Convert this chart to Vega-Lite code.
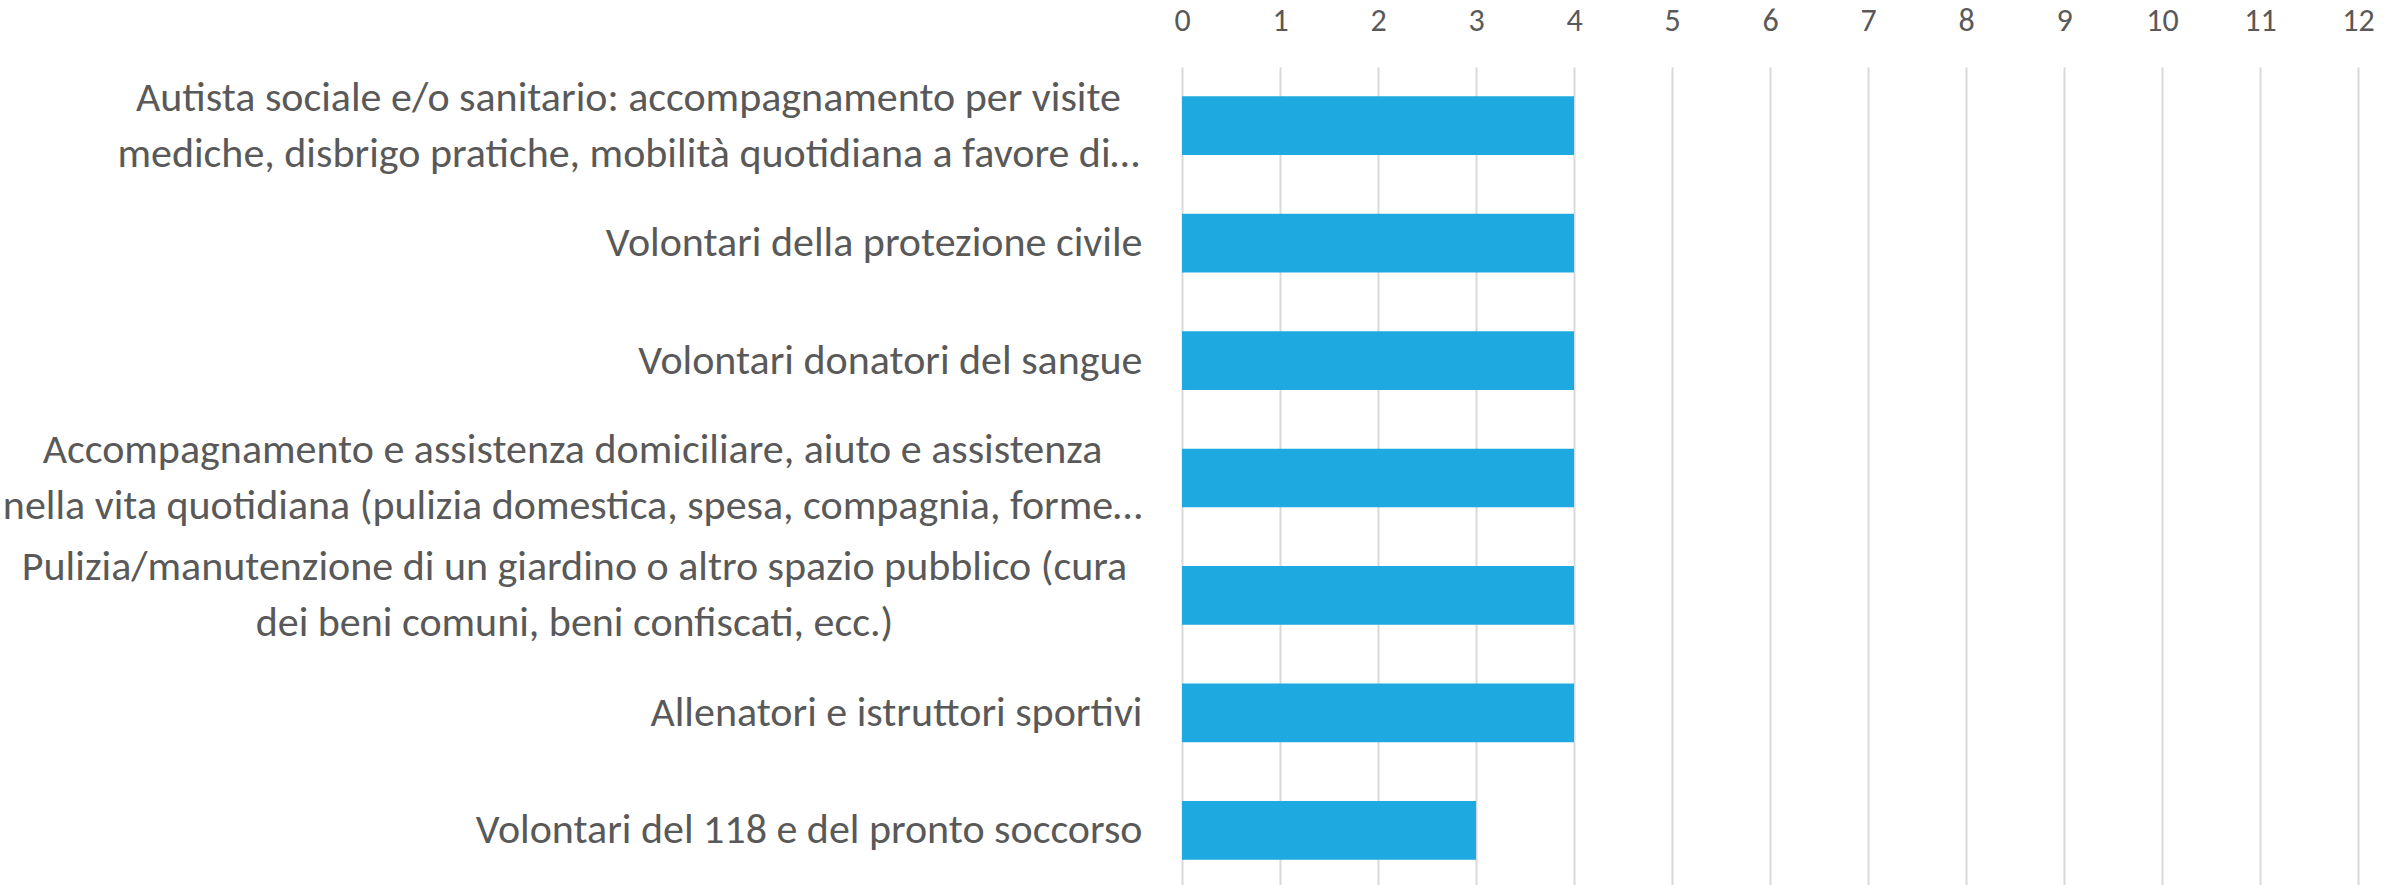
{
  "$schema": "https://vega.github.io/schema/vega-lite/v6.json",
  "width": 1176,
  "height": 822,
  "autosize": "none",
  "padding": {"left": 1182, "top": 67, "right": 42, "bottom": 0},
  "background": "white",
  "data": {
    "values": [
      {"attivita": "Autista sociale e/o sanitario: accompagnamento per visite|mediche, disbrigo pratiche, mobilità quotidiana a favore di…", "valore": 4},
      {"attivita": "Volontari della protezione civile", "valore": 4},
      {"attivita": "Volontari donatori del sangue", "valore": 4},
      {"attivita": "Accompagnamento e assistenza domiciliare, aiuto e assistenza|nella vita quotidiana (pulizia domestica, spesa, compagnia, forme…", "valore": 4},
      {"attivita": "Pulizia/manutenzione di un giardino o altro spazio pubblico (cura|dei beni comuni, beni confiscati, ecc.)", "valore": 4},
      {"attivita": "Allenatori e istruttori sportivi", "valore": 4},
      {"attivita": "Volontari del 118 e del pronto soccorso", "valore": 3}
    ]
  },
  "mark": {"type": "bar", "color": "#1EAAE1"},
  "encoding": {
    "y": {
      "field": "attivita",
      "type": "nominal",
      "sort": null,
      "title": null,
      "scale": {"paddingInner": 0.5, "paddingOuter": 0.25},
      "axis": {
        "labelExpr": "split(datum.label, '|')",
        "labelFont": "Carlito, Lato, sans-serif",
        "labelFontSize": 42,
        "labelLineHeight": 56,
        "labelColor": "#595959",
        "labelLimit": 0,
        "labelAlign": {"condition": {"test": "indexof(datum.value, '|') >= 0", "value": "center"}, "value": "right"},
        "labelOffset": {"condition": {"test": "indexof(datum.value, '|') >= 0", "value": -28}, "value": 0},
        "labelPadding": {"condition": [
          {"test": "indexof(datum.value, 'Autista') == 0", "value": 554},
          {"test": "indexof(datum.value, 'Accompagnamento') == 0", "value": 610},
          {"test": "indexof(datum.value, 'Pulizia') == 0", "value": 608}
        ], "value": 40},
        "ticks": false,
        "domain": false,
        "grid": false
      }
    },
    "x": {
      "field": "valore",
      "type": "quantitative",
      "title": null,
      "scale": {"domain": [0, 12], "nice": false},
      "axis": {
        "orient": "top",
        "values": [0, 1, 2, 3, 4, 5, 6, 7, 8, 9, 10, 11, 12],
        "format": "d",
        "labelFont": "Carlito, Lato, sans-serif",
        "labelFontSize": 32,
        "labelColor": "#595959",
        "labelPadding": 30,
        "ticks": false,
        "domain": false,
        "grid": true,
        "gridColor": "#D9D9D9",
        "gridWidth": 2,
        "labelFlush": false
      }
    }
  },
  "config": {"view": {"stroke": null}}
}
